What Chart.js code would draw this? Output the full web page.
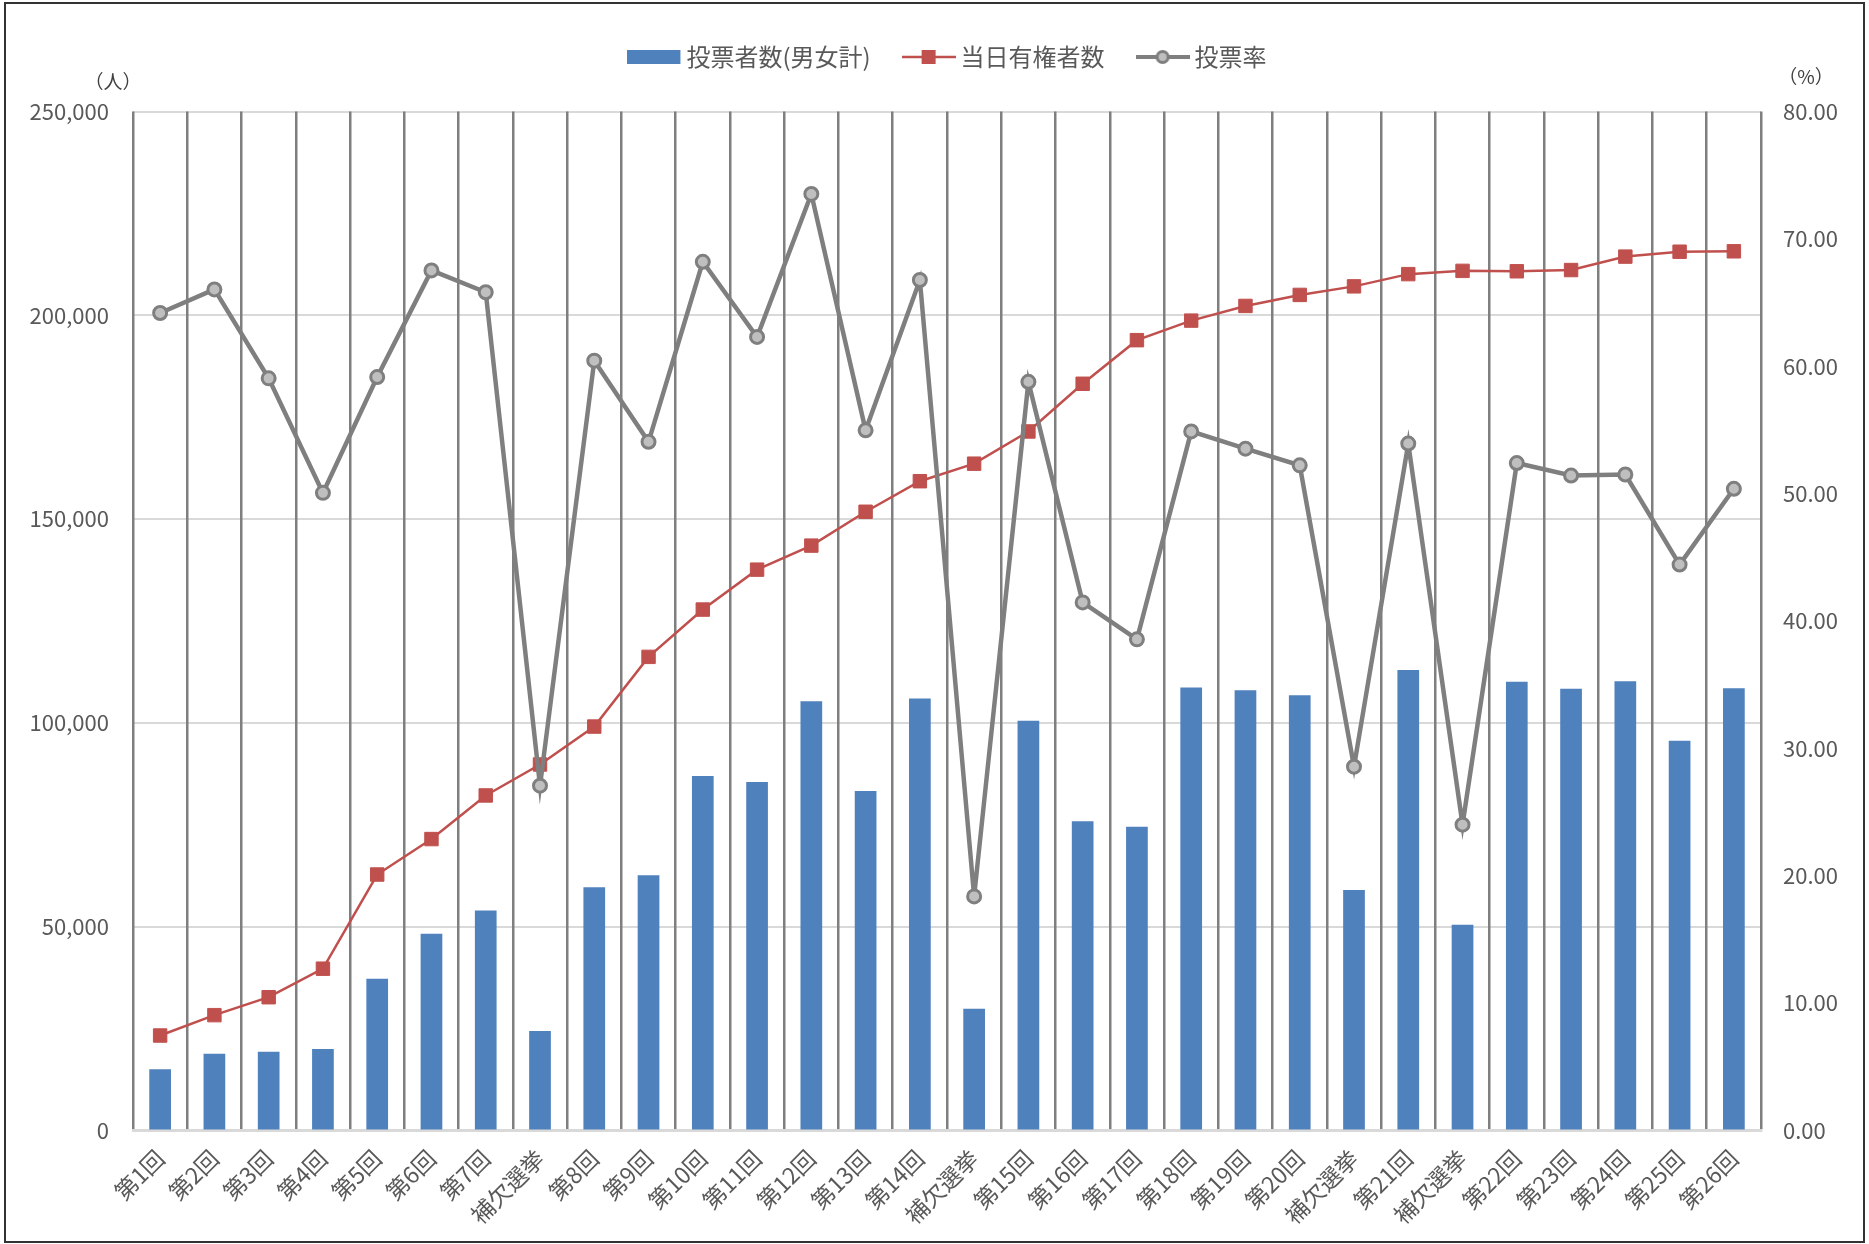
<!DOCTYPE html>
<html lang="ja">
<head>
<meta charset="utf-8">
<title>投票者数・当日有権者数・投票率</title>
<script src="https://cdn.jsdelivr.net/npm/chart.js@4"></script>
<style>
  html, body { margin: 0; padding: 0; background: #fff; }
  #wrap { width: 1869px; height: 1244px; }
</style>
</head>
<body>
<div id="wrap"><canvas id="chart" width="1869" height="1244"></canvas></div>
<script>
/* ---------- data ---------- */
const labels = ['第1回','第2回','第3回','第4回','第5回','第6回','第7回','補欠選挙','第8回','第9回',
  '第10回','第11回','第12回','第13回','第14回','補欠選挙','第15回','第16回','第17回','第18回',
  '第19回','第20回','補欠選挙','第21回','補欠選挙','第22回','第23回','第24回','第25回','第26回'];

// 投票者数(男女計)
const voters = [15000, 18800, 19350, 20000, 37200, 48300, 54000, 24400, 59700, 62600,
  87000, 85500, 105300, 83300, 106000, 29900, 100500, 75900, 74500, 108700,
  108000, 106800, 59000, 113000, 50500, 110100, 108400, 110200, 95600, 108500];

// 当日有権者数
const electorate = [23300, 28300, 32700, 39700, 62800, 71500, 82200, 89800, 99100, 116200,
  127800, 137600, 143500, 151800, 159300, 163600, 171500, 183200, 193900, 198700,
  202300, 205000, 207100, 210100, 210900, 210800, 211100, 214400, 215600, 215700];

// 投票率 (%)
const turnout = [64.18, 66.03, 59.05, 50.06, 59.15, 67.52, 65.81, 27.07, 60.44, 54.07,
  68.20, 62.30, 73.53, 54.97, 66.77, 18.38, 58.78, 41.46, 38.56, 54.88,
  53.53, 52.22, 28.56, 53.93, 24.01, 52.40, 51.42, 51.50, 44.43, 50.38];

const leftMax = 250000, leftStep = 50000;
const rightMax = 80, rightStep = 10;

/* ---------- colours ---------- */
const BLUE = '#4f81bd', RED = '#c0504d', GRAY = '#7f7f7f', GRAY_FILL = '#bfbfbf';
const TEXT = '#595959';

Chart.defaults.font.family = '"Noto Sans CJK JP", "Noto Sans", sans-serif';
Chart.defaults.font.size = 22;
Chart.defaults.color = TEXT;

/* ---------- legend symbols (Excel style) ---------- */
const mkIcon = (draw) => {
  const c = document.createElement('canvas');
  c.width = 54; c.height = 18;
  draw(c.getContext('2d'));
  return c;
};
const iconBar = mkIcon(g => { g.fillStyle = BLUE; g.fillRect(0, 2, 53, 14); });
const iconRed = mkIcon(g => {
  g.strokeStyle = RED; g.lineWidth = 2.5;
  g.beginPath(); g.moveTo(0, 9); g.lineTo(54, 9); g.stroke();
  g.fillStyle = RED; g.fillRect(20, 2, 14, 14);
});
const iconGray = mkIcon(g => {
  g.strokeStyle = GRAY; g.lineWidth = 4;
  g.beginPath(); g.moveTo(0, 9); g.lineTo(54, 9); g.stroke();
  g.beginPath(); g.arc(27, 9, 5.5, 0, Math.PI * 2);
  g.fillStyle = GRAY_FILL; g.fill(); g.lineWidth = 3; g.stroke();
});
const icons = [iconBar, iconRed, iconGray];

/* ---------- small plugins ---------- */
const frame = {
  id: 'frame',
  beforeDraw(chart) {
    const {ctx, width, height} = chart;
    ctx.save();
    ctx.fillStyle = '#fff';
    ctx.fillRect(0, 0, width, height);
    ctx.strokeStyle = '#333';
    ctx.lineWidth = 2;
    ctx.strokeRect(5, 3, width - 10, height - 5);
    ctx.restore();
  }
};

const unitTitles = {
  id: 'unitTitles',
  afterDraw(chart) {
    const {ctx, chartArea} = chart;
    ctx.save();
    ctx.font = '19px "Noto Sans CJK JP"';
    ctx.fillStyle = '#404040';
    ctx.textBaseline = 'middle';
    ctx.textAlign = 'center';
    ctx.fillText('（人）', chartArea.left - 20, 82);
    ctx.fillText('（%）', chartArea.right + 45, 77);
    ctx.restore();
  }
};

// legend: fixed height, centred over the plot area like the original
const legendHeight = {
  id: 'legendHeight',
  beforeInit(chart) {
    const fit = chart.legend.fit;
    chart.legend.fit = function () {
      fit.call(this);
      this.height = 104.5;
    };
  },
  afterLayout(chart) {
    chart.legend.left += 16;
    chart.legend.right += 16;
  }
};

/* ---------- chart ---------- */
new Chart(document.getElementById('chart'), {
  type: 'bar',
  data: {
    labels,
    datasets: [
      {
        type: 'bar',
        label: '投票者数(男女計)',
        data: voters,
        backgroundColor: BLUE,
        borderWidth: 0,
        categoryPercentage: 1,
        barPercentage: 0.4,
        yAxisID: 'y',
        order: 3
      },
      {
        type: 'line',
        label: '当日有権者数',
        data: electorate,
        borderColor: RED,
        backgroundColor: RED,
        borderWidth: 2.5,
        pointStyle: 'rect',
        pointRadius: 9.5,
        pointBorderWidth: 1,
        pointBackgroundColor: RED,
        pointBorderColor: RED,
        yAxisID: 'y',
        order: 2
      },
      {
        type: 'line',
        label: '投票率',
        data: turnout,
        borderColor: GRAY,
        backgroundColor: GRAY_FILL,
        borderWidth: 4.5,
        pointStyle: 'circle',
        pointRadius: 6.5,
        pointBorderWidth: 3,
        pointBackgroundColor: GRAY_FILL,
        pointBorderColor: GRAY,
        yAxisID: 'y1',
        order: 1
      }
    ]
  },
  options: {
    responsive: false,
    animation: false,
    layout: { padding: { top: 7, left: 0, right: 0, bottom: 0 } },
    plugins: {
      tooltip: { enabled: false },
      legend: {
        position: 'top',
        labels: {
          usePointStyle: true,
          pointStyleWidth: 40,
          padding: 38,
          color: TEXT,
          font: { size: 24 },
          generateLabels(chart) {
            return chart.data.datasets.map((ds, i) => ({
              text: ds.label,
              pointStyle: icons[i],
              datasetIndex: i,
              hidden: false,
              lineWidth: 0,
              fontColor: TEXT
            }));
          }
        }
      }
    },
    scales: {
      y: {
        position: 'left',
        min: 0,
        max: leftMax,
        afterFit(scale) { scale.width = 133; },
        ticks: {
          stepSize: leftStep,
          padding: 24,
          color: TEXT,
          callback: v => v.toLocaleString('en-US')
        },
        grid: { color: '#d9d9d9', lineWidth: 2, drawTicks: false },
        border: { display: false }
      },
      y1: {
        position: 'right',
        min: 0,
        max: rightMax,
        afterFit(scale) { scale.width = 108; },
        ticks: {
          stepSize: rightStep,
          padding: 22,
          color: TEXT,
          callback: v => v.toFixed(2)
        },
        grid: { display: false, drawTicks: false },
        border: { display: false }
      },
      x: {
        offset: true,
        afterFit(scale) { scale.height = 113.5; },
        ticks: {
          minRotation: 45,
          maxRotation: 45,
          autoSkip: false,
          padding: 14,
          color: TEXT,
          font: { size: 23 }
        },
        grid: { color: '#7f7f7f', lineWidth: 2.5, offset: true, drawTicks: false },
        border: { display: true, color: '#d9d9d9', width: 3 }
      }
    }
  },
  plugins: [frame, unitTitles, legendHeight]
});
</script>
</body>
</html>
